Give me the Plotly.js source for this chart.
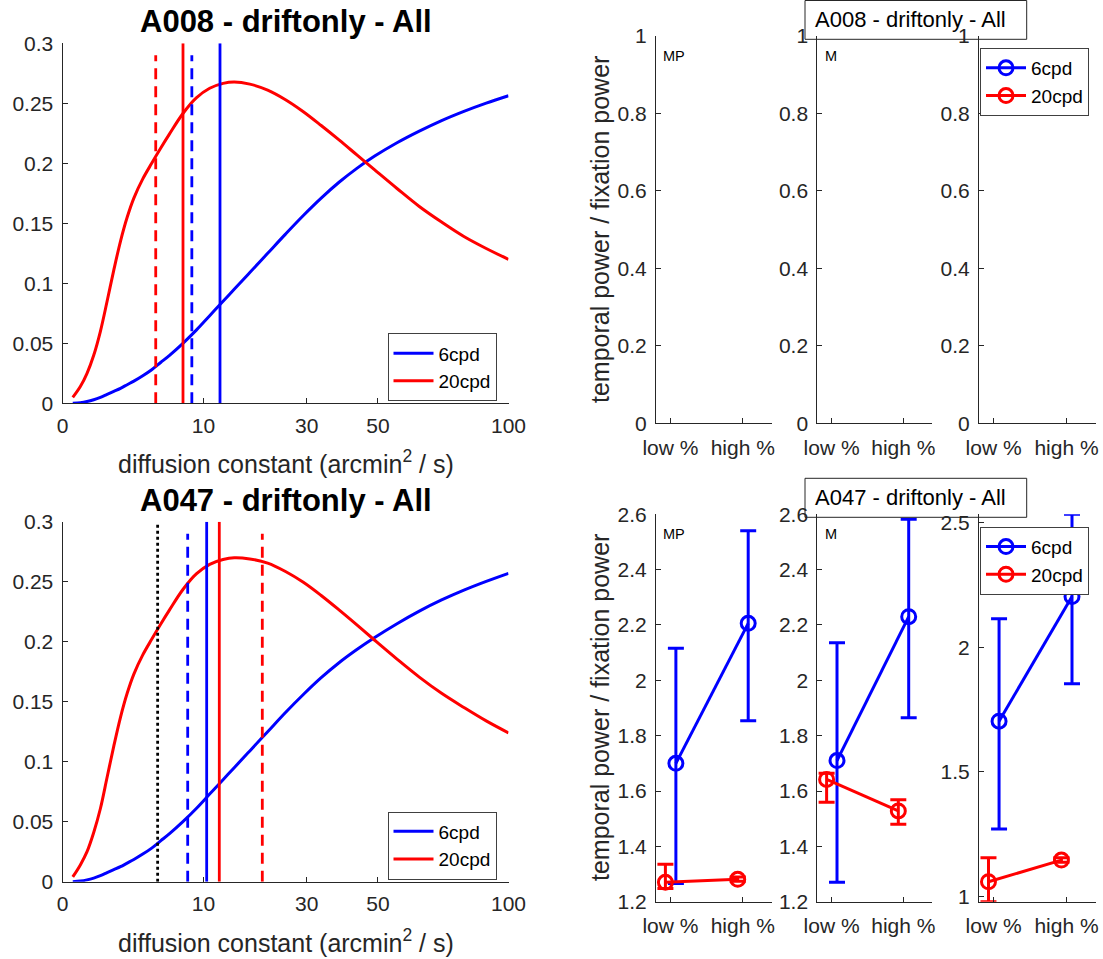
<!DOCTYPE html>
<html>
<head>
<meta charset="utf-8">
<script src="https://cdn.plot.ly/plotly-3.0.1.min.js"></script>
<style>html,body{margin:0;padding:0;background:#fff;}#chart{width:1103px;height:959px;}</style>
</head>
<body>
<div id="chart"></div>
<script>
// ---------------- DATA ----------------
// Left panels: x is the diffusion constant D (arcmin^2/s); the axis is drawn on a sqrt(D) scale
const xTickValuesD = [0, 10, 30, 50, 100];
const xTickLabels = ['0', '10', '30', '50', '100'];

const diffusionA008 = [0.053, 0.16, 0.3025, 0.49, 0.7225, 1, 1.3225, 1.69, 2.1025, 2.56, 3.24, 4, 4.84, 5.76, 7.29, 9, 10.89, 12.96, 14.82, 17.64, 21.16, 25, 29.16, 33.64, 38.44, 43.56, 49, 56.25, 64, 72.25, 81, 90.25, 100];
const power6cpdA008  = [0.000, 0.0005, 0.0015, 0.003, 0.005, 0.0075, 0.010, 0.0125, 0.0155, 0.0185, 0.023, 0.028, 0.034, 0.040, 0.050, 0.061, 0.073, 0.085, 0.095, 0.109, 0.125, 0.141, 0.1565, 0.171, 0.1842, 0.1958, 0.206, 0.2171, 0.2268, 0.2356, 0.2433, 0.2502, 0.2563];
const power20cpdA008 = [0.005, 0.014, 0.025, 0.040, 0.060, 0.085, 0.111, 0.135, 0.155, 0.171, 0.187, 0.200, 0.2125, 0.2245, 0.2415, 0.2545, 0.2625, 0.2666, 0.2678, 0.266, 0.261, 0.253, 0.243, 0.2315, 0.2195, 0.207, 0.1945, 0.179, 0.164, 0.151, 0.139, 0.129, 0.120];

const diffusionA047 = [0.053, 0.16, 0.3025, 0.49, 0.7225, 1, 1.3225, 1.69, 2.1025, 2.56, 3.24, 4, 4.84, 5.76, 7.29, 9, 10.89, 12.96, 14.82, 17.64, 21.16, 25, 29.16, 33.64, 38.44, 43.56, 49, 56.25, 64, 72.25, 81, 90.25, 100];
const power6cpdA047  = [0.000, 0.0005, 0.0015, 0.003, 0.005, 0.0075, 0.010, 0.0125, 0.0155, 0.0185, 0.023, 0.028, 0.034, 0.040, 0.050, 0.061, 0.073, 0.085, 0.095, 0.109, 0.125, 0.141, 0.156, 0.170, 0.1825, 0.1935, 0.2035, 0.215, 0.2255, 0.2348, 0.243, 0.2503, 0.257];
const power20cpdA047 = [0.004, 0.014, 0.025, 0.041, 0.061, 0.087, 0.113, 0.137, 0.157, 0.173, 0.189, 0.202, 0.2145, 0.2265, 0.2435, 0.2565, 0.2645, 0.2685, 0.270, 0.269, 0.2655, 0.2585, 0.2495, 0.2385, 0.2265, 0.214, 0.2012, 0.1855, 0.1705, 0.157, 0.1452, 0.134, 0.124];

// vertical marker lines: D value and top height
const markersA008D   = [4.37, 7.30, 8.41, 12.47];
const markersA008Top = [0.29, 0.30, 0.29, 0.30];
const markersA047D   = [4.55, 7.88, 10.45, 12.36, 20.07];
const markersA047Top = [0.30, 0.29, 0.30, 0.30, 0.29];

// Right panels
const categories = ['low %', 'high %'];
const seriesNames = ['6cpd', '20cpd'];
const panelLabels = ['MP', 'M'];
// A008: no values in any panel
const a008Empty = [null, null];
// A047 MP
const mp6 = [1.700, 2.206],  mp6Lo = [1.266, 1.854],  mp6Hi = [2.116, 2.541];
const mp20 = [1.270, 1.281], mp20Lo = [1.248, 1.274], mp20Hi = [1.335, 1.289];
// A047 M
const m6 = [1.710, 2.230],  m6Lo = [1.270, 1.865],  m6Hi = [2.136, 2.582];
const m20 = [1.642, 1.528], m20Lo = [1.559, 1.480], m20Hi = [1.664, 1.568];
// A047 third panel
const p6 = [1.703, 2.203],  p6Lo = [1.271, 1.853],  p6Hi = [2.114, 2.533];
const p20 = [1.059, 1.146], p20Lo = [0.979, 1.137], p20Hi = [1.155, 1.155];

// ---------------- LAYOUT HELPERS ----------------
const W = 1103, H = 959;
const FONT = 'Liberation Sans, Arial, Helvetica, sans-serif';
const fx = px => px / W;
const fy = py => 1 - py / H;
const BLUE = '#0000FF', RED = '#FF0000', AX = '#262626';

function ax(extra) {
  return Object.assign({
    showline: true, linecolor: AX, linewidth: 1, ticks: 'inside', ticklen: 5, tickwidth: 1,
    tickcolor: AX, showgrid: false, zeroline: false,
    tickfont: {family: FONT, size: 21, color: AX}
  }, extra);
}

const sq = v => Math.sqrt(v);
const traces = [];

function addLeft(xa, ya, D, p6, p20, legendId) {
  traces.push({x: D.map(sq), y: p6, xaxis: xa, yaxis: ya, mode: 'lines', name: seriesNames[0],
    line: {color: BLUE, width: 3, shape: 'spline', smoothing: 1}, legend: legendId});
  traces.push({x: D.map(sq), y: p20, xaxis: xa, yaxis: ya, mode: 'lines', name: seriesNames[1],
    line: {color: RED, width: 3, shape: 'spline', smoothing: 1}, legend: legendId});
}
function addVLines(xa, ya, Ds, tops, styles) {
  Ds.forEach((d, i) => {
    traces.push({x: [sq(d), sq(d)], y: [0, tops[i]], xaxis: xa, yaxis: ya, mode: 'lines',
      showlegend: false, hoverinfo: 'skip',
      line: {color: styles[i].c, width: 2.8, dash: styles[i].d}});
  });
}
addLeft('x', 'y', diffusionA008, power6cpdA008, power20cpdA008, 'legend');
addVLines('x', 'y', markersA008D, markersA008Top, [
  {c: RED, d: '11px,7px'}, {c: RED, d: 'solid'}, {c: BLUE, d: '11px,7px'}, {c: BLUE, d: 'solid'}]);
addLeft('x2', 'y2', diffusionA047, power6cpdA047, power20cpdA047, 'legend2');
addVLines('x2', 'y2', markersA047D, markersA047Top, [
  {c: '#000000', d: '3px,3px'}, {c: BLUE, d: '11px,7px'}, {c: BLUE, d: 'solid'}, {c: RED, d: 'solid'}, {c: RED, d: '11px,7px'}]);

const catX = (off) => categories.map((c, i) => i + 1 + off);
function addRight(xa, ya, mean, lo, hi, color, off, name, showleg, legendId) {
  const t = {
    x: catX(off), y: mean, xaxis: xa, yaxis: ya, mode: 'lines+markers', name: name,
    showlegend: showleg, legend: legendId,
    line: {color: color, width: 3},
    marker: {symbol: 'circle-open', size: 14, color: color, line: {width: 3, color: color}}
  };
  if (lo && hi) {
    t.error_y = {type: 'data', symmetric: false,
      array: mean.map((m, i) => hi[i] - m), arrayminus: mean.map((m, i) => m - lo[i]),
      color: color, thickness: 3, width: 8};
  }
  traces.push(t);
}
// top row: A008 (empty panels, legend in third)
['x3', 'x4', 'x5'].forEach((xa, i) => {
  const ya = xa.replace('x', 'y');
  addRight(xa, ya, a008Empty, null, null, BLUE, 0.075, seriesNames[0], i === 2, 'legend3');
  addRight(xa, ya, a008Empty, null, null, RED, -0.07, seriesNames[1], i === 2, 'legend3');
});
// bottom row: A047
addRight('x6', 'y6', mp6, mp6Lo, mp6Hi, BLUE, 0.075, seriesNames[0], false, 'legend4');
addRight('x6', 'y6', mp20, mp20Lo, mp20Hi, RED, -0.07, seriesNames[1], false, 'legend4');
addRight('x7', 'y7', m6, m6Lo, m6Hi, BLUE, 0.075, seriesNames[0], false, 'legend4');
addRight('x7', 'y7', m20, m20Lo, m20Hi, RED, -0.07, seriesNames[1], false, 'legend4');
addRight('x8', 'y8', p6, p6Lo, p6Hi, BLUE, 0.075, seriesNames[0], true, 'legend4');
addRight('x8', 'y8', p20, p20Lo, p20Hi, RED, -0.07, seriesNames[1], true, 'legend4');

// axes positions (px)
const leftX = [62.5, 508.5];
const leftTopY = [43.3, 403.3], leftBotY = [521.7, 881.7];
const rightX = [[656, 771.7], [817.3, 932], [979, 1095.7]];
const rightTopY = [36, 423.3], rightBotY = [514.3, 901.7];

const layout = {
  width: W, height: H, margin: {l: 0, r: 0, t: 0, b: 0},
  paper_bgcolor: '#ffffff', plot_bgcolor: '#ffffff',
  font: {family: FONT, color: AX},
  showlegend: true,
  annotations: [], shapes: []
};
const leftXAxis = (anchor) => ax({domain: [fx(leftX[0]), fx(leftX[1])], anchor: anchor, range: [0, 10],
  tickmode: 'array', tickvals: xTickValuesD.map(sq), ticktext: xTickLabels, ticklabelstandoff: 3});
const leftYAxis = (anchor, yy) => ax({domain: [fy(yy[1]), fy(yy[0])], anchor: anchor, range: [0, 0.3],
  dtick: 0.05, tick0: 0, ticklabelstandoff: 4});
layout.xaxis = leftXAxis('y');  layout.yaxis = leftYAxis('x', leftTopY);
layout.xaxis2 = leftXAxis('y2'); layout.yaxis2 = leftYAxis('x2', leftBotY);

const rightYTop = {range: [0, 1], dtick: 0.2, tick0: 0};
const rightYBot = [
  {range: [1.2, 2.6], dtick: 0.2, tick0: 0},
  {range: [1.2, 2.6], dtick: 0.2, tick0: 0},
  {range: [0.979, 2.533], tickmode: 'array', tickvals: [1, 1.5, 2, 2.5], ticktext: ['1', '1.5', '2', '2.5']}
];
for (let i = 0; i < 3; i++) {
  const nT = i + 3, nB = i + 6;
  const xd = [fx(rightX[i][0]), fx(rightX[i][1])];
  const xCommon = {range: [0.8, 2.4], tickmode: 'array', tickvals: [1, 2], ticktext: categories, ticklabelstandoff: 5};
  layout['xaxis' + nT] = ax(Object.assign({domain: xd, anchor: 'y' + nT}, xCommon));
  layout['yaxis' + nT] = ax(Object.assign({domain: [fy(rightTopY[1]), fy(rightTopY[0])], anchor: 'x' + nT, ticklabelstandoff: 4}, rightYTop));
  layout['xaxis' + nB] = ax(Object.assign({domain: xd, anchor: 'y' + nB}, xCommon));
  layout['yaxis' + nB] = ax(Object.assign({domain: [fy(rightBotY[1]), fy(rightBotY[0])], anchor: 'x' + nB, ticklabelstandoff: 4}, rightYBot[i]));
}

const legBase = {bgcolor: '#ffffff', bordercolor: '#404040', borderwidth: 1,
  font: {family: FONT, size: 19, color: '#000'}, xanchor: 'right', yanchor: 'top',
  tracegroupgap: 0, itemwidth: 40};
layout.legend  = Object.assign({}, legBase, {x: fx(496.5), y: fy(333.3)});
layout.legend2 = Object.assign({}, legBase, {x: fx(496.5), y: fy(811.5)});
layout.legend3 = Object.assign({}, legBase, {x: fx(1089), y: fy(48)});
layout.legend4 = Object.assign({}, legBase, {x: fx(1089), y: fy(526.7)});

function ann(text, px, py, opts) {
  layout.annotations.push(Object.assign({text: text, x: fx(px), y: fy(py), xref: 'paper', yref: 'paper',
    showarrow: false, xanchor: 'center', yanchor: 'middle', font: {family: FONT, size: 25, color: AX}}, opts || {}));
}
ann('<b>A008 - driftonly - All</b>', 285.5, 21.7, {font: {family: FONT, size: 31, color: '#000'}});
ann('<b>A047 - driftonly - All</b>', 285.5, 500, {font: {family: FONT, size: 31, color: '#000'}});
ann('diffusion constant (arcmin<sup>2</sup> / s)', 285.5, 462);
ann('diffusion constant (arcmin<sup>2</sup> / s)', 285.5, 940.5);
ann('temporal power / fixation power', 600, 230, {textangle: -90});
ann('temporal power / fixation power', 600, 708, {textangle: -90});
[56, 534].forEach(py => {
  ann(panelLabels[0], 660.5, py, {xanchor: 'left', font: {family: FONT, size: 14.5, color: '#000'}});
  ann(panelLabels[1], 822.5, py, {xanchor: 'left', font: {family: FONT, size: 14.5, color: '#000'}});
});
// boxed figure titles
[[0.5, 39.3, 'A008 - driftonly - All'], [478.3, 517.3, 'A047 - driftonly - All']].forEach(([y0, y1, t]) => {
  layout.shapes.push({type: 'rect', xref: 'paper', yref: 'paper', x0: fx(805), x1: fx(1026.7), y0: fy(y1), y1: fy(y0),
    line: {color: AX, width: 1}, fillcolor: 'rgba(0,0,0,0)'});
  ann(t, 812.5, (y0 + y1) / 2, {xanchor: 'left', font: {family: FONT, size: 22, color: '#000'}});
});

Plotly.newPlot('chart', traces, layout, {staticPlot: true, displayModeBar: false});
</script>
</body>
</html>
